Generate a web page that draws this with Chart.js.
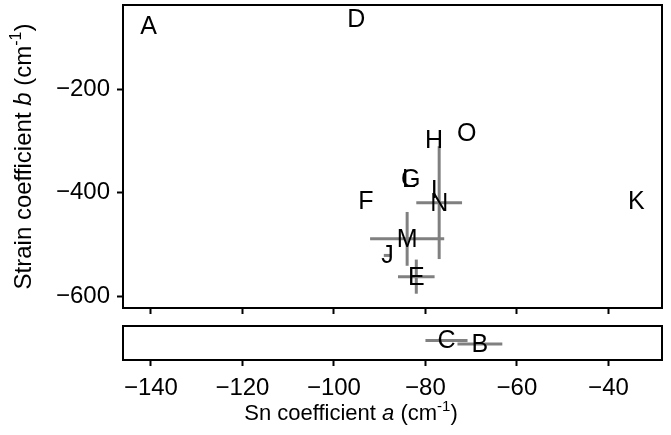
<!DOCTYPE html>
<html lang="en">
<head>
  <meta charset="UTF-8" />
  <title>Sn coefficient vs strain coefficient</title>
  <script src="https://cdn.jsdelivr.net/npm/chart.js"></script>
  <style>
    html, body { margin: 0; padding: 0; background: #fff; }
    #wrap { position: relative; width: 671px; height: 435px; }
    #wrap canvas { position: absolute; left: 0; }
    #cTop { top: 0; }
    #cBot { top: 316px; }
  </style>
</head>
<body>
  <div id="wrap">
    <canvas id="cTop" width="671" height="320"></canvas>
    <canvas id="cBot" width="671" height="119"></canvas>
  </div>

  <script>
    // upper panel points
    const topLabels = ['A', 'D', 'F', 'L', 'G', 'H', 'I', 'O', 'N', 'M', 'J', 'E', 'K'];
    const topX      = [-140.5, -95.1, -93.0, -83.6, -83.2, -78.1, -78.1, -71.0, -77.0, -84.0, -88.3, -82.0, -33.9];
    const topY      = [-77, -64, -416, -374, -374, -298, -395, -284, -419, -489, -521, -562, -416];
    const topXErr   = [0, 0, 0, 0, 0, 0, 0, 0, 5.0, 8.1, 0.8, 4.0, 0];
    const topYErr   = [0, 0, 0, 0, 0, 0, 0, 0, 109, 52, 0, 33, 0];

    // lower panel points
    const botLabels = ['C', 'B'];
    const botX      = [-75.4, -68.1];
    const botY      = [-688, -695];
    const botXErr   = [4.6, 4.9];
    const botYErr   = [0, 0];

    const xTicks = [-140, -120, -100, -80, -60, -40];
    const yTicks = [-200, -400, -600];

    const FONT = '"Liberation Sans", Arial, Helvetica, sans-serif';
    const errColor = 'rgb(128,128,128)';

    function minus(v) { return String(v).replace('-', '\u2212'); }

    // error bars + text labels + box, drawn with the chart's scales
    function markPlugin(labels, xe, ye) {
      return {
        id: 'marks',
        afterDatasetsDraw(chart) {
          const ctx = chart.ctx;
          const sx = chart.scales.x, sy = chart.scales.y;
          const pts = chart.data.datasets[0].data;
          ctx.save();
          ctx.strokeStyle = errColor;
          ctx.lineWidth = 3;
          pts.forEach((p, i) => {
            if (xe[i] > 0) {
              ctx.beginPath();
              ctx.moveTo(sx.getPixelForValue(p.x - xe[i]), sy.getPixelForValue(p.y));
              ctx.lineTo(sx.getPixelForValue(p.x + xe[i]), sy.getPixelForValue(p.y));
              ctx.stroke();
            }
            if (ye[i] > 0) {
              ctx.beginPath();
              ctx.moveTo(sx.getPixelForValue(p.x), sy.getPixelForValue(p.y - ye[i]));
              ctx.lineTo(sx.getPixelForValue(p.x), sy.getPixelForValue(p.y + ye[i]));
              ctx.stroke();
            }
          });
          ctx.fillStyle = '#000';
          ctx.font = '25px ' + FONT;
          ctx.textAlign = 'center';
          ctx.textBaseline = 'middle';
          const meta = chart.getDatasetMeta(0);
          meta.data.forEach((el, i) => {
            ctx.fillText(labels[i], el.x, el.y + 1);
          });
          const a = chart.chartArea;
          ctx.strokeStyle = '#000';
          ctx.lineWidth = 2;
          ctx.strokeRect(a.left, a.top, a.right - a.left, a.bottom - a.top);
          ctx.restore();
        }
      };
    }

    // text with italic letter and superscript
    function drawTitle(ctx, parts, cx, cy, rot) {
      ctx.save();
      ctx.translate(cx, cy);
      if (rot) ctx.rotate(-Math.PI / 2);
      ctx.fillStyle = '#000';
      ctx.textBaseline = 'alphabetic';
      ctx.textAlign = 'left';
      let w = 0;
      parts.forEach(p => { ctx.font = p.font; w += ctx.measureText(p.t).width; });
      let x = -w / 2;
      parts.forEach(p => {
        ctx.font = p.font;
        ctx.fillText(p.t, x, 7 + (p.dy || 0));
        x += ctx.measureText(p.t).width;
      });
      ctx.restore();
    }

    function titleParts(letter, text, size) {
      const sup = Math.round(size * 0.68);
      return [
        { t: text + ' ', font: size + 'px ' + FONT },
        { t: letter, font: 'italic ' + size + 'px ' + FONT },
        { t: ' (cm', font: size + 'px ' + FONT },
        { t: '-1', font: sup + 'px ' + FONT, dy: -Math.round(size * 0.4) },
        { t: ')', font: size + 'px ' + FONT }
      ];
    }

    const tickFont = { family: FONT, size: 24 };

    function xScale(showLabels, h) {
      return {
        type: 'linear',
        min: -146.1,
        max: -28.3,
        afterBuildTicks: s => { s.ticks = xTicks.map(v => ({ value: v })); },
        afterFit: s => { s.height = h; s.paddingLeft = 0; s.paddingRight = 0; },
        grid: { drawOnChartArea: false, drawTicks: true, tickLength: 6, tickWidth: 2, tickColor: '#000' },
        border: { display: false },
        ticks: { display: showLabels, color: '#000', font: tickFont, padding: 8, maxRotation: 0, callback: v => minus(v) }
      };
    }

    const chartTop = new Chart(document.getElementById('cTop'), {
      type: 'scatter',
      data: {
        datasets: [{
          data: topX.map((x, i) => ({ x: x, y: topY[i] })),
          pointRadius: 0
        }]
      },
      options: {
        responsive: false,
        animation: false,
        layout: { padding: { top: 5, right: 9, left: 0, bottom: 0 } },
        plugins: { legend: { display: false }, tooltip: { enabled: false } },
        scales: {
          x: xScale(false, 12),
          y: {
            type: 'linear',
            min: -622.6,
            max: -37,
            afterBuildTicks: s => { s.ticks = yTicks.map(v => ({ value: v })); },
            afterFit: s => { s.width = 123; s.paddingTop = 0; s.paddingBottom = 0; },
            grid: { drawOnChartArea: false, drawTicks: true, tickLength: 6, tickWidth: 2, tickColor: '#000' },
            border: { display: false },
            ticks: { color: '#000', font: tickFont, padding: 7, callback: v => minus(v) }
          }
        }
      },
      plugins: [markPlugin(topLabels, topXErr, topYErr), {
        id: 'ytitle',
        afterDraw(chart) {
          drawTitle(chart.ctx, titleParts('b', 'Strain coefficient', 24), 24, 156.5, true);
        }
      }]
    });

    const chartBot = new Chart(document.getElementById('cBot'), {
      type: 'scatter',
      data: {
        datasets: [{
          data: botX.map((x, i) => ({ x: x, y: botY[i] })),
          pointRadius: 0
        }]
      },
      options: {
        responsive: false,
        animation: false,
        layout: { padding: { top: 10, right: 9, left: 0, bottom: 0 } },
        plugins: { legend: { display: false }, tooltip: { enabled: false } },
        scales: {
          x: xScale(true, 75),
          y: {
            type: 'linear',
            min: -726,
            max: -660,
            afterFit: s => { s.width = 123; s.paddingTop = 0; s.paddingBottom = 0; },
            grid: { display: false },
            border: { display: false },
            ticks: { display: false }
          }
        }
      },
      plugins: [markPlugin(botLabels, botXErr, botYErr), {
        id: 'xtitle',
        afterDraw(chart) {
          drawTitle(chart.ctx, titleParts('a', 'Sn coefficient', 22), 351, 97, false);
        }
      }]
    });
  </script>
</body>
</html>
